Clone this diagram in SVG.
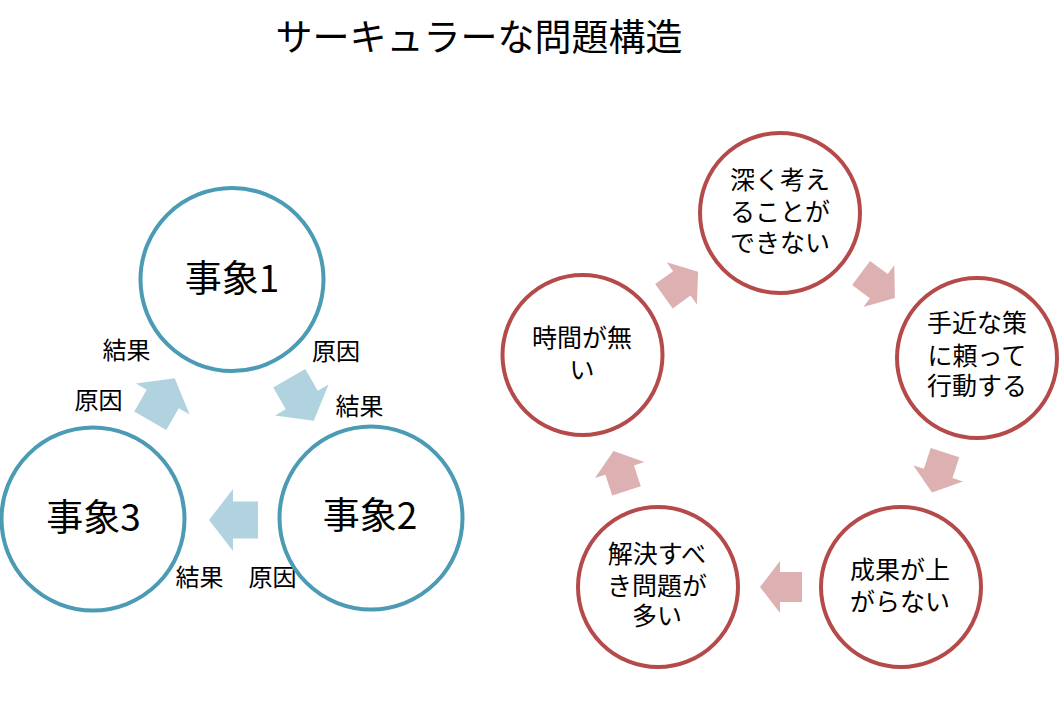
<svg xmlns="http://www.w3.org/2000/svg" width="1060" height="720" viewBox="0 0 1060 720">
<style>
text{font-family:"Noto Sans CJK JP","Noto Sans",sans-serif;fill:#000;text-anchor:middle}
.title{font-size:37px}
.big{font-size:37px}
.lbl{font-size:24px}
.sm{font-size:25px}
.bc{fill:#fff;stroke:#4a9bb3;stroke-width:4}
.rc{fill:#fff;stroke:#b54a4a;stroke-width:4}
.ba{fill:#b1d3df}
.ra{fill:#ddb1b1}
</style>
<defs>
<polygon id="barrow" points="24.5,0 0.5,-31 0.5,-18.5 -24.5,-18.5 -24.5,18.5 0.5,18.5 0.5,31"/>
<polygon id="rarrow" points="21,0 1,-26 1,-15 -21,-15 -21,15 1,15 1,26"/>
</defs>
<rect width="1060" height="720" fill="#fff"/>
<text class="title" x="479" y="51">サーキュラーな問題構造</text>

<g id="connectors">
<use href="#barrow" class="ba" transform="translate(162.5,399.5) rotate(-60)"/>
<use href="#barrow" class="ba" transform="translate(301.5,399.5) rotate(60)"/>
<use href="#barrow" class="ba" transform="translate(233.5,520) rotate(180)"/>
<use href="#rarrow" class="ra" transform="translate(681,284) rotate(-35.6)"/>
<use href="#rarrow" class="ra" transform="translate(878,285.5) rotate(36.5)"/>
<use href="#rarrow" class="ra" transform="translate(938.5,472.5) rotate(108)"/>
<use href="#rarrow" class="ra" transform="translate(781,587) rotate(180)"/>
<use href="#rarrow" class="ra" transform="translate(620,471) rotate(-108)"/>
<text class="lbl" x="126.5" y="358.5">結果</text>
<text class="lbl" x="98.5" y="408.5">原因</text>
<text class="lbl" x="336" y="360">原因</text>
<text class="lbl" x="359.5" y="415">結果</text>
<text class="lbl" x="199.5" y="585.5">結果</text>
<text class="lbl" x="272.5" y="585.5">原因</text>
</g>

<g id="event1">
<circle class="bc" cx="232" cy="279.5" r="91.5"/>
<text class="big" x="232" y="292">事象1</text>
</g>
<g id="event2">
<circle class="bc" cx="371" cy="518" r="91.5"/>
<text class="big" x="370" y="529">事象2</text>
</g>
<g id="event3">
<circle class="bc" cx="93" cy="519" r="91.5"/>
<text class="big" x="93.5" y="531">事象3</text>
</g>

<g id="think">
<circle class="rc" cx="780" cy="213" r="80"/>
<text class="sm" x="780" y="189">深く考え</text>
<text class="sm" x="780" y="221">ることが</text>
<text class="sm" x="780" y="252">できない</text>
</g>
<g id="quickfix">
<circle class="rc" cx="977" cy="358" r="80"/>
<text class="sm" x="977" y="332">手近な策</text>
<text class="sm" x="977" y="365">に頼って</text>
<text class="sm" x="977" y="395">行動する</text>
</g>
<g id="noresult">
<circle class="rc" cx="901" cy="587" r="80"/>
<text class="sm" x="900" y="579">成果が上</text>
<text class="sm" x="900" y="611">がらない</text>
</g>
<g id="problems">
<circle class="rc" cx="658" cy="587" r="80"/>
<text class="sm" x="657" y="563">解決すべ</text>
<text class="sm" x="657" y="595">き問題が</text>
<text class="sm" x="657" y="625">多い</text>
</g>
<g id="notime">
<circle class="rc" cx="582.5" cy="355" r="80"/>
<text class="sm" x="582" y="347">時間が無</text>
<text class="sm" x="582" y="379">い</text>
</g>
</svg>
